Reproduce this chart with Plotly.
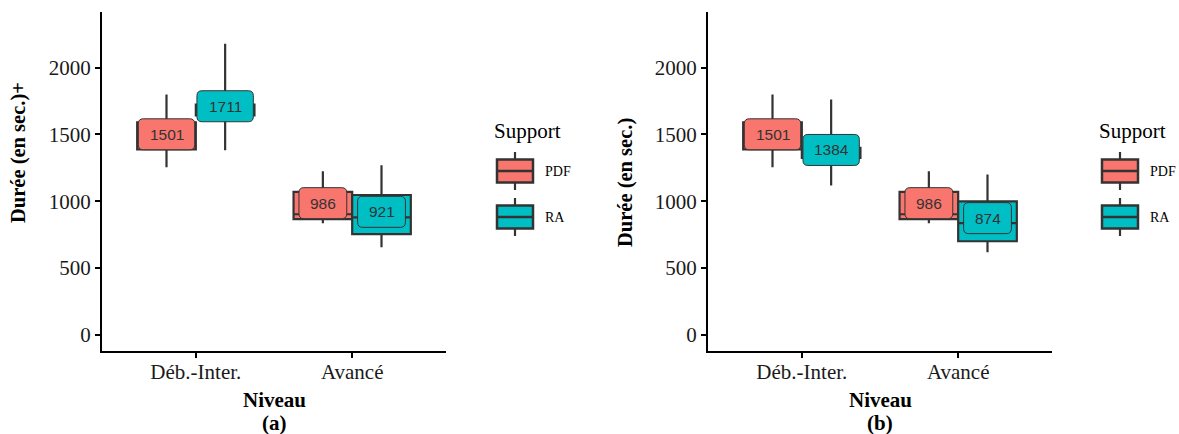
import plotly.graph_objects as go

W, H = 1179, 434

# ---------------- data ----------------
niveaux = ["Déb.-Inter.", "Avancé"]
supports = ["PDF", "RA"]
colors = {"PDF": "#F8766D", "RA": "#00BFC4"}

# panel (a)
a_pdf_low = [1254, 836]
a_pdf_q1 = [1388, 866]
a_pdf_med = [1490, 903]
a_pdf_q3 = [1590, 1070]
a_pdf_high = [1799, 1224]
a_pdf_mean = [1501, 986]

a_ra_low = [1381, 657]
a_ra_q1 = [1642, 754]
a_ra_med = [1680, 880]
a_ra_q3 = [1724, 1047]
a_ra_high = [2179, 1269]
a_ra_mean = [1711, 921]

# panel (b)
b_pdf_low = [1254, 836]
b_pdf_q1 = [1388, 866]
b_pdf_med = [1490, 903]
b_pdf_q3 = [1590, 1070]
b_pdf_high = [1799, 1224]
b_pdf_mean = [1501, 986]

b_ra_low = [1119, 619]
b_ra_q1 = [1324, 701]
b_ra_med = [1360, 836]
b_ra_q3 = [1400, 1000]
b_ra_high = [1761, 1201]
b_ra_mean = [1384, 874]

y_ticks = [0, 500, 1000, 1500, 2000]

panels = [
    dict(name="(a)", ytitle="Durée (en sec.)+",
         data={"PDF": (a_pdf_low, a_pdf_q1, a_pdf_med, a_pdf_q3, a_pdf_high, a_pdf_mean),
               "RA": (a_ra_low, a_ra_q1, a_ra_med, a_ra_q3, a_ra_high, a_ra_mean)}),
    dict(name="(b)", ytitle="Durée (en sec.)",
         data={"PDF": (b_pdf_low, b_pdf_q1, b_pdf_med, b_pdf_q3, b_pdf_high, b_pdf_mean),
               "RA": (b_ra_low, b_ra_q1, b_ra_med, b_ra_q3, b_ra_high, b_ra_mean)}),
]

# ---------------- layout geometry (pixels) ----------------
SERIF = "Liberation Serif"
SANS = "Liberation Sans"
INK = "#1a1a1a"
EDGE = "#333333"
DODGE = 0.1875
BOXW = 0.375

plot_left = [102, 708]
plot_w = 344
plot_top, plot_bot = 12, 351
ytitle_pos = [(18, 153), (625, 183)]
legend_left = [492, 1097]


def px(x):
    return x / W


def py(y):
    return 1 - y / H


def note(x, y, text, size, family=SERIF, xanchor="center", angle=0, color="black"):
    return dict(x=px(x), y=py(y), xref="paper", yref="paper", text=text,
                showarrow=False, xanchor=xanchor, yanchor="middle", textangle=angle,
                font=dict(family=family, size=size, color=color))


fig = go.Figure()
shapes = []
annotations = []

for i, p in enumerate(panels):
    xa = "x" if i == 0 else "x2"
    ya = "y" if i == 0 else "y2"
    for j, s in enumerate(supports):
        low, q1, med, q3, high, mean = p["data"][s]
        off = -DODGE if j == 0 else DODGE
        xs = [k + off for k in range(len(niveaux))]
        fig.add_trace(go.Box(
            x=xs, q1=q1, median=med, q3=q3, lowerfence=low, upperfence=high,
            width=BOXW, whiskerwidth=0, fillcolor=colors[s],
            line=dict(color=EDGE, width=2.2), boxpoints=False,
            xaxis=xa, yaxis=ya, showlegend=False, hoverinfo="skip",
        ))
        # rounded mean labels
        for xv, mv in zip(xs, mean):
            txt = str(mv)
            w = 8.6 * len(txt) + 22
            h = 31
            r = 5
            hw, hh = w / 2, h / 2
            path = (f"M {-hw + r},{-hh} L {hw - r},{-hh} Q {hw},{-hh} {hw},{-hh + r} "
                    f"L {hw},{hh - r} Q {hw},{hh} {hw - r},{hh} L {-hw + r},{hh} "
                    f"Q {-hw},{hh} {-hw},{hh - r} L {-hw},{-hh + r} Q {-hw},{-hh} {-hw + r},{-hh} Z")
            shapes.append(dict(type="path", xref=xa, yref=ya, xsizemode="pixel",
                               ysizemode="pixel", xanchor=xv, yanchor=mv, path=path,
                               fillcolor=colors[s], line=dict(color=EDGE, width=1),
                               layer="above"))
            annotations.append(dict(x=xv, y=mv, xref=xa, yref=ya, text=txt,
                                    showarrow=False, xanchor="center", yanchor="middle",
                                    font=dict(family=SANS, size=15.5, color="#333333")))

    # axis titles
    cx = plot_left[i] + plot_w / 2
    annotations.append(note(cx, 400, "<b>Niveau</b>", 21))
    annotations.append(note(cx, 423, "<b>" + p["name"] + "</b>", 21))
    tx, ty = ytitle_pos[i]
    annotations.append(note(tx, ty, "<b>" + p["ytitle"] + "</b>", 20.5, angle=-90))

    # legend
    L = legend_left[i]
    annotations.append(note(L, 131, "Support", 21, xanchor="left"))
    for j, s in enumerate(supports):
        mid = 171 + 46 * j
        kx0, kx1 = L + 5, L + 41
        kc = (kx0 + kx1) / 2
        shapes.append(dict(type="line", xref="paper", yref="paper",
                           x0=px(kc), x1=px(kc), y0=py(mid - 19), y1=py(mid + 19),
                           line=dict(color=EDGE, width=2.2)))
        shapes.append(dict(type="rect", xref="paper", yref="paper",
                           x0=px(kx0), x1=px(kx1), y0=py(mid - 11.5), y1=py(mid + 11.5),
                           fillcolor=colors[s], line=dict(color=EDGE, width=2.5)))
        shapes.append(dict(type="line", xref="paper", yref="paper",
                           x0=px(kx0), x1=px(kx1), y0=py(mid), y1=py(mid),
                           line=dict(color=EDGE, width=2.5)))
        annotations.append(note(L + 51, mid, s, 14, xanchor="left"))

axis_common = dict(showline=True, linecolor="black", linewidth=2, ticks="outside",
                   ticklen=5, tickwidth=2, tickcolor="black", showgrid=False,
                   zeroline=False, tickfont=dict(family=SERIF, size=21, color=INK))

ydom = [py(plot_bot), py(plot_top)]
layout = dict(
    width=W, height=H, margin=dict(l=0, r=0, t=0, b=0),
    paper_bgcolor="white", plot_bgcolor="white", showlegend=False,
    shapes=shapes, annotations=annotations,
)
for i in range(2):
    sx = "" if i == 0 else "2"
    layout["xaxis" + sx] = dict(axis_common, domain=[px(plot_left[i]), px(plot_left[i] + plot_w)],
                                range=[-0.6, 1.6], tickvals=list(range(len(niveaux))),
                                ticktext=niveaux, anchor="y" + sx, fixedrange=True,
                                ticklabelstandoff=-4)
    layout["yaxis" + sx] = dict(axis_common, domain=ydom, range=[-120, 2416],
                                tickvals=y_ticks, anchor="x" + sx, fixedrange=True)

fig.update_layout(**layout)
fig.write_html("out.html", config={"displayModeBar": False},
               post_script="document.body.style.margin='0';")
